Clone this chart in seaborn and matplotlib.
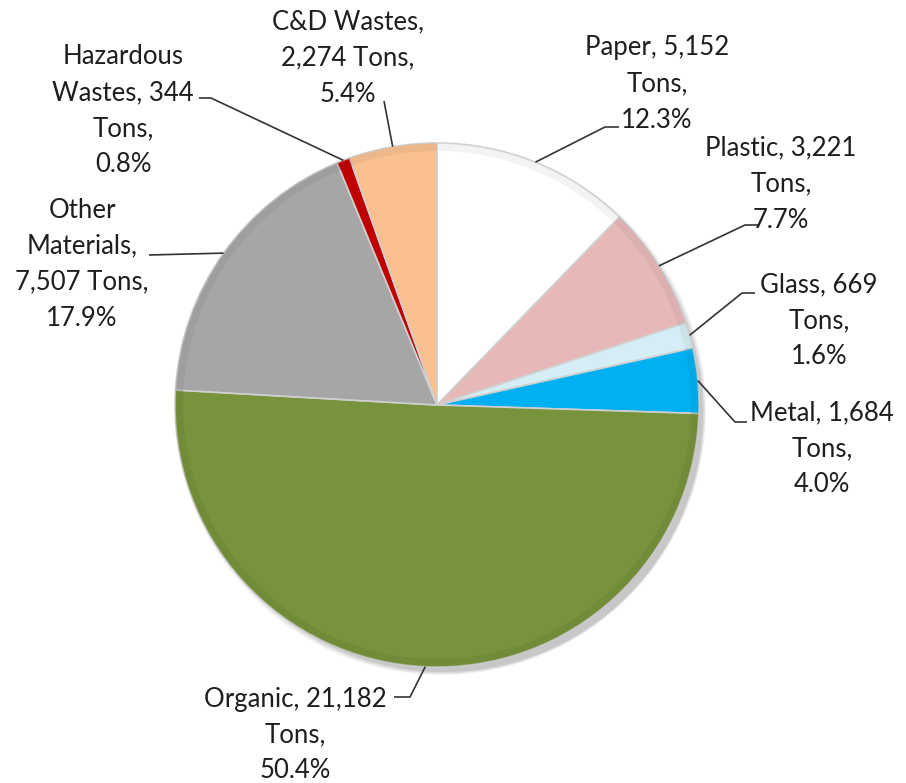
import matplotlib
matplotlib.use("Agg")
import matplotlib.pyplot as plt
import numpy as np
import seaborn as sns

# Waste composition (tons), clockwise from 12 o'clock
categories = ["Paper", "Plastic", "Glass", "Metal", "Organic",
              "Other Materials", "Hazardous Wastes", "C&D Wastes"]
tons = [5152, 3221, 669, 1684, 21182, 7507, 344, 2274]
colors = ["#FFFFFF", "#E6B9B8", "#D5EEF5", "#00B0F0", "#77933C",
          "#A6A6A6", "#C00000", "#FAC090"]

# How each label is broken into lines
label_templates = [
    "{n}, {v}\nTons,\n{p}",
    "{n}, {v}\nTons,\n{p}",
    "{n}, {v}\nTons,\n{p}",
    "{n}, {v}\nTons,\n{p}",
    "{n}, {v}\nTons,\n{p}",
    "Other\nMaterials,\n{v} Tons,\n{p}",
    "Hazardous\nWastes, {v}\nTons,\n{p}",
    "{n},\n{v} Tons,\n{p}",
]

W, H = 906, 783
CX, CY, R = 437, 405, 262   # pie centre and radius in pixels (y from top)

# label centres and leader-line elbows, pixel space (y from top)
label_pos = [(657, 84), (781, 184), (819, 321), (822, 449),
             (295, 735), (82, 264), (123, 111), (348, 58)]
leader_elbow = [[(605, 127), (619, 127)],
                [(745, 225), (758, 225)],
                [(742, 293), (755, 293)],
                [(735, 422), (747, 422)],
                [(410, 697), (394, 697)],
                [(149, 255)],
                [(211, 98), (199, 98)],
                [(384, 101)]]

sns.set_theme(style="white")
plt.rcParams["font.family"] = ["Lato", "DejaVu Sans"]

fig = plt.figure(figsize=(W / 100, H / 100), dpi=100)
ax = fig.add_axes([0, 0, 1, 1])


def py(y):
    return H - y


# soft shadow beneath the pie
for k, a in enumerate([0.05, 0.05, 0.06, 0.07]):
    ax.add_patch(plt.Circle((CX + 4 + k, py(CY) - 5 - k), R + 3 - 2 * k,
                            color="black", alpha=a, lw=0, zorder=0))

wedges, _ = ax.pie(tons, colors=colors, startangle=90, counterclock=False,
                   center=(CX, py(CY)), radius=R, frame=True,
                   wedgeprops=dict(edgecolor="#D0D0D0", linewidth=1.2))
for w in wedges:
    w.set_zorder(2)

# bevel: slightly darker outer rim on each slice
for w, c in zip(wedges, colors):
    rgb = np.array(matplotlib.colors.to_rgb(c))
    dark = rgb * 0.85
    ax.add_patch(matplotlib.patches.Wedge((CX, py(CY)), R, w.theta1, w.theta2,
                                          width=8, facecolor=dark, alpha=0.3,
                                          lw=0, zorder=3))

ax.set_xlim(0, W)
ax.set_ylim(0, H)
ax.set_aspect("equal")
ax.axis("off")

total = sum(tons)
for w, name, v, tmpl, (lx, ly), elbow in zip(wedges, categories, tons,
                                             label_templates, label_pos,
                                             leader_elbow):
    pct = f"{100 * v / total:.1f}%"
    txt = tmpl.format(n=name, v=f"{v:,}", p=pct)
    ax.text(lx, py(ly), txt, ha="center", va="center", multialignment="center",
            fontsize=18.5, color="#1E1E1E", linespacing=1.55, zorder=5)
    mid = np.deg2rad((w.theta1 + w.theta2) / 2)
    ax0 = CX + R * np.cos(mid)
    ay0 = py(CY) + R * np.sin(mid)
    xs = [ax0] + [p[0] for p in elbow]
    ys = [ay0] + [py(p[1]) for p in elbow]
    ax.plot(xs, ys, color="#333333", lw=1.2, zorder=4, solid_capstyle="butt")

fig.savefig("out.png", dpi=100, facecolor="white")
